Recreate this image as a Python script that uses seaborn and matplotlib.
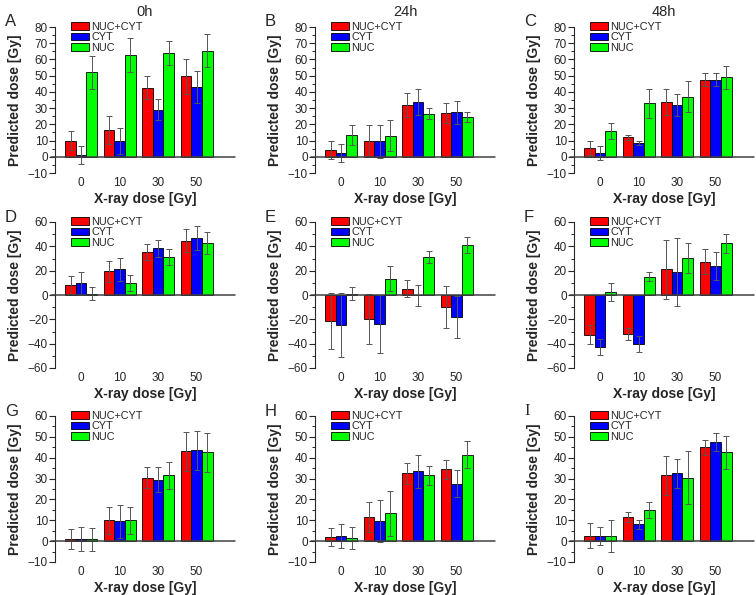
import numpy as np
import pandas as pd
import seaborn as sns
import matplotlib.pyplot as plt
from matplotlib.ticker import MultipleLocator

# doses and series
doses = ["0", "10", "30", "50"]
series = ["NUC+CYT", "CYT", "NUC"]
colors = ["#ff0000", "#0000ff", "#00ff00"]
titles = ["0h", "24h", "48h"]
letters = ["A", "B", "C", "D", "E", "F", "G", "H", "I"]

# mean values per panel: rows = series (NUC+CYT, CYT, NUC), cols = doses
mean_A = [[10, 16.5, 42.5, 49.5], [1, 9.5, 29, 43], [52, 62.5, 64, 65.5]]
err_A = [[6, 8.5, 7, 11], [5.5, 8, 6.5, 10], [10, 10.5, 7.5, 10]]
mean_B = [[4, 10, 32, 27], [2.5, 9.5, 33.5, 27.5], [13.5, 13, 26.5, 24.5]]
err_B = [[5.5, 9.5, 7.5, 6], [5.5, 10, 8, 7], [6, 9.5, 3.5, 3]]
mean_C = [[5.5, 12, 33.5, 47.5], [2.5, 8.5, 32, 47.5], [16, 33, 37, 49]]
err_C = [[4.5, 1.5, 8, 4], [4.3, 1.5, 7, 4], [5, 9, 9.5, 7]]
mean_D = [[8.2, 19.5, 35.5, 44.5], [9.5, 21, 38.5, 47], [1, 10, 31.5, 43]]
err_D = [[7.5, 8.5, 6.5, 9.5], [9.5, 9.5, 7, 10], [5.5, 6.5, 6.5, 9]]
mean_E = [[-21.5, -20, 5, -10], [-24.5, -24, -0.3, -18], [1, 13.5, 31.5, 41]]
err_E = [[23, 20.5, 7, 17.5], [26.5, 24, 8.5, 17], [5.5, 10.5, 5, 6.5]]
mean_F = [[-32.5, -32, 21, 27.5], [-43, -40.5, 19, 24], [2.5, 15, 30.5, 42.5]]
err_F = [[7.5, 5, 24.5, 10], [6.5, 6.5, 28, 11.5], [7.5, 3.5, 12.5, 8]]
mean_G = [[1, 10, 30.5, 43], [1, 9.5, 29.5, 43.5], [1, 10, 31.5, 42.5]]
err_G = [[5, 6.5, 5, 9.5], [5.8, 8, 6, 9.5], [5.5, 6.5, 6.5, 9.5]]
mean_H = [[2, 11.5, 32.5, 34.5], [2.3, 9.5, 33.5, 27.5], [1.3, 13.3, 31.5, 41.5]]
err_H = [[4.3, 7.3, 5, 4.5], [5.8, 10, 8, 6.5], [5.3, 10.7, 4.5, 6.3]]
mean_I = [[2.5, 11.5, 31.5, 45], [2.5, 8, 32.5, 47.5], [2.5, 15, 30.5, 42.5]]
err_I = [[6, 2.5, 9.3, 3.7], [4.5, 2, 6.8, 4.3], [7.5, 4, 12.7, 7.7]]

means = [mean_A, mean_B, mean_C, mean_D, mean_E, mean_F, mean_G, mean_H, mean_I]
errs = [err_A, err_B, err_C, err_D, err_E, err_F, err_G, err_H, err_I]

# axis ranges per row
row_ylim = [(-10, 80), (-60, 60), (-10, 60)]
row_major = [10, 20, 10]

sns.set_style("ticks")
plt.rcParams["font.family"] = ["Liberation Sans", "DejaVu Sans"]

W, H = 756, 595
fig = plt.figure(figsize=(W / 100, H / 100), dpi=100)

col_left = [55, 315, 574]
row_top = [27, 222, 416]
ax_w, ax_h = 180, 146

for i in range(9):
    r, c = divmod(i, 3)
    ax = fig.add_axes([col_left[c] / W, 1 - (row_top[r] + ax_h) / H, ax_w / W, ax_h / H])

    rows = []
    for s, name in enumerate(series):
        for d, dose in enumerate(doses):
            rows.append({"dose": dose, "series": name, "value": means[i][s][d]})
    df = pd.DataFrame(rows)

    sns.barplot(data=df, x="dose", y="value", hue="series", order=doses,
                hue_order=series, palette=colors, width=0.83, errorbar=None,
                edgecolor="black", linewidth=0.6, saturation=1, ax=ax)

    # error bars on top of seaborn's bars
    bar_conts = list(ax.containers)
    for s, cont in enumerate(bar_conts):
        for d, bar in enumerate(cont.patches):
            xc = bar.get_x() + bar.get_width() / 2
            ax.errorbar(xc, means[i][s][d], yerr=errs[i][s][d], fmt="none",
                        ecolor="#555555", elinewidth=0.7, capsize=2, capthick=0.7,
                        zorder=3)

    ax.axhline(0, color="#404040", lw=1.1, xmin=-0.02, clip_on=False, zorder=4)
    ax.set_xlim(-0.68, 4.0)
    ax.set_ylim(*row_ylim[r])
    ax.yaxis.set_major_locator(MultipleLocator(row_major[r]))
    ax.yaxis.set_minor_locator(MultipleLocator(row_major[r] / 2))
    ax.tick_params(axis="y", which="major", direction="out", length=4, width=0.8,
                   labelsize=8.5, pad=1)
    ax.tick_params(axis="y", which="minor", direction="out", length=2, width=0.7)
    ax.tick_params(axis="x", length=0, labelsize=8.5, pad=3)
    for sp in ["top", "right", "bottom"]:
        ax.spines[sp].set_visible(False)
    ax.spines["left"].set_linewidth(0.8)

    ax.set_xlabel("X-ray dose [Gy]", fontsize=10, fontweight="bold", labelpad=2)
    ax.set_ylabel("Predicted dose [Gy]", fontsize=10, fontweight="bold", labelpad=4)

    ax.legend(loc="upper left", bbox_to_anchor=(0.09, 1.035), frameon=False,
              fontsize=7.8, handlelength=1.6, handleheight=0.7, labelspacing=0.05,
              handletextpad=0.25, borderpad=0, borderaxespad=0)

    fam = "Liberation Serif" if letters[i] == "I" else "Liberation Sans"
    fig.text((col_left[c] - 50) / W, 1 - (row_top[r] - 5) / H, letters[i],
             fontsize=12, family=fam, ha="left", va="center")
    if r == 0:
        ax.set_title(titles[c], fontsize=10.5, pad=8)

fig.savefig("out.png", dpi=100)
